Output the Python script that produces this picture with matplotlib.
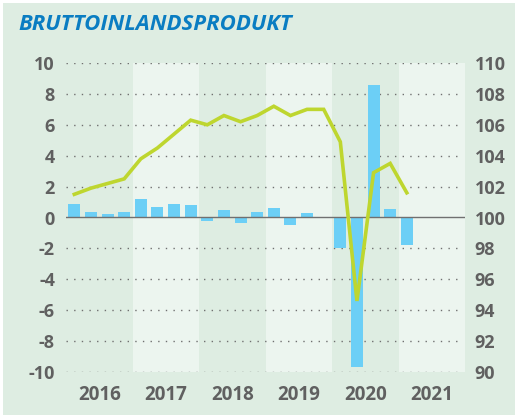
import matplotlib.pyplot as plt
import numpy as np
from matplotlib.patches import Rectangle

years = ["2016", "2017", "2018", "2019", "2020", "2021"]
# quarterly change, % (bars, left axis)
growth = [0.9, 0.35, 0.22, 0.35, 1.2, 0.67, 0.86, 0.8,
          -0.24, 0.47, -0.37, 0.35, 0.6, -0.5, 0.28, 0.0,
          -2.0, -9.7, 8.6, 0.54, -1.8]
# index level (line, right axis)
index = [101.5, 101.9, 102.2, 102.5, 103.8, 104.5, 105.4, 106.3,
         106.0, 106.6, 106.2, 106.6, 107.2, 106.6, 107.0, 107.0,
         104.9, 94.6, 102.9, 103.5, 101.6]
left_ticks = [-10, -8, -6, -4, -2, 0, 2, 4, 6, 8, 10]
right_ticks = [90, 92, 94, 96, 98, 100, 102, 104, 106, 108, 110]

BG = "#deede2"
LIGHT = "#ecf5ef"
BAR = "#6ccff6"
LINE = "#bed62f"
TXT = "#606060"

plt.rcParams["font.family"] = ["Open Sans", "DejaVu Sans"]

fig = plt.figure(figsize=(5.15, 4.15), dpi=100, facecolor="white")
fig.patches.append(Rectangle((3 / 515, 0), 1, 1 - 3 / 415, transform=fig.transFigure,
                             facecolor=BG, edgecolor="none", zorder=-10))

ax = fig.add_axes([66 / 515, 43 / 415, 399 / 515, 309 / 415])
ax.set_facecolor(BG)
x = np.arange(len(growth))
ax.set_xlim(-0.5, 23.5)
ax.set_ylim(-10, 10)

for i in range(len(years)):
    if i % 2 == 1:
        ax.axvspan(i * 4 - 0.5, i * 4 + 3.5, color=LIGHT, zorder=0, lw=0)

for t in left_ticks:
    if t != 0:
        ax.plot([-0.5, 23.2], [t, t], color="#707070", lw=1.0,
                dashes=(1, 4.5), zorder=1)
ax.axhline(0, color="#707070", lw=1.0, zorder=3)

ax.bar(x, growth, width=0.72, color=BAR, zorder=2)

ax2 = ax.twinx()
ax2.set_ylim(90, 110)
ax2.plot(x, index, color=LINE, lw=2.6, zorder=4, solid_joinstyle="miter")

for a in (ax, ax2):
    for s in a.spines.values():
        s.set_visible(False)
    a.tick_params(length=0, labelsize=13, colors=TXT)

ax.set_yticks(left_ticks)
ax.set_yticklabels([str(t) for t in left_ticks], fontweight="bold")
ax2.set_yticks(right_ticks)
ax2.set_yticklabels([str(t) for t in right_ticks], fontweight="bold")
ax.tick_params(axis="y", pad=8)
ax2.tick_params(axis="y", pad=7)

ax.set_xticks([i * 4 + 1.5 for i in range(len(years))])
ax.set_xticklabels(years, fontweight="bold", fontsize=13.5)
ax.tick_params(axis="x", pad=9)

fig.text(18 / 515, 1 - 24 / 415, "BRUTTOINLANDSPRODUKT", color="#0a7dc2",
         fontsize=16, fontweight="bold", fontstyle="italic", va="center")

fig.savefig("out.png", dpi=100, facecolor=fig.get_facecolor())
